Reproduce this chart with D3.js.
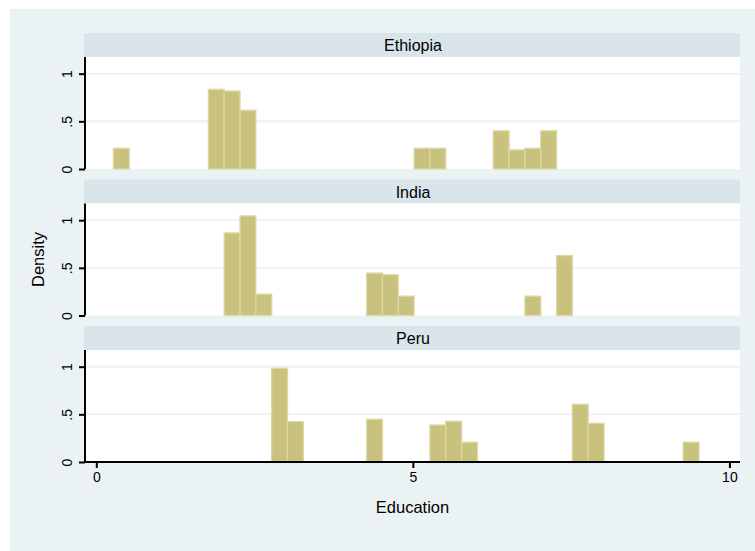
<!DOCTYPE html>
<html>
<head>
<meta charset="utf-8">
<script src="https://cdn.jsdelivr.net/npm/d3@7"></script>
<style>
  body { margin: 0; background: #ffffff; }
  svg text { font-family: "Liberation Sans", Arial, Helvetica, sans-serif; fill: #000; }
</style>
</head>
<body>
<div id="chart"></div>
<script>
// Histogram bins (left edge in years of education) and densities per country
const countries = ["Ethiopia", "India", "Peru"];
const binWidth = 0.25;

const ethiopiaLeft = [0.27, 1.77, 2.02, 2.27, 5.02, 5.27, 6.27, 6.52, 6.77, 7.02];
const ethiopiaDensity = [0.217, 0.836, 0.818, 0.616, 0.217, 0.217, 0.40, 0.20, 0.217, 0.40];

const indiaLeft = [2.02, 2.27, 2.52, 4.27, 4.52, 4.77, 6.77, 7.27];
const indiaDensity = [0.866, 1.045, 0.224, 0.445, 0.428, 0.203, 0.203, 0.628];

const peruLeft = [2.77, 3.02, 4.27, 5.27, 5.52, 5.77, 7.52, 7.77, 9.27];
const peruDensity = [0.983, 0.424, 0.448, 0.388, 0.427, 0.207, 0.605, 0.406, 0.207];

const yTicks = [0, 0.5, 1];
const yTickLabels = ["0", ".5", "1"];
const xTicks = [0, 5, 10];

const panels = [
  { name: countries[0], left: ethiopiaLeft, dens: ethiopiaDensity },
  { name: countries[1], left: indiaLeft, dens: indiaDensity },
  { name: countries[2], left: peruLeft, dens: peruDensity }
];

const W = 755, H = 551;
const plotLeft = 85, plotRight = 740;
const firstTop = 33, step = 146.5, headerH = 24, plotH = 112;

const svg = d3.select("#chart").append("svg")
  .attr("width", W).attr("height", H);

// outer background
svg.append("rect").attr("x", 10).attr("y", 9).attr("width", W - 10).attr("height", H - 9)
  .attr("fill", "#eaf2f3");

const x = d3.scaleLinear().domain([0, 10]).range([96.3, 729.4]);

panels.forEach((p, i) => {
  const top = firstTop + i * step;
  const pTop = top + headerH;
  const pBot = pTop + plotH;
  const y = d3.scaleLinear().domain([0, 1.175]).range([pBot, pTop]);

  // header strip
  svg.append("rect").attr("x", 84).attr("y", top).attr("width", plotRight - 84).attr("height", headerH)
    .attr("fill", "#d9e5eb");
  svg.append("text").attr("x", (plotLeft + plotRight) / 2 + 0.5).attr("y", top + 18)
    .attr("text-anchor", "middle").style("font-size", "16px").text(p.name);

  // plot area
  svg.append("rect").attr("x", plotLeft).attr("y", pTop).attr("width", plotRight - plotLeft).attr("height", plotH)
    .attr("fill", "#ffffff");

  // gridlines
  svg.append("g").selectAll("line").data(yTicks.filter(d => d > 0)).join("line")
    .attr("x1", plotLeft).attr("x2", plotRight)
    .attr("y1", d => y(d)).attr("y2", d => y(d))
    .attr("stroke", "#eaf2f3").attr("stroke-width", 2);

  // bars
  const bars = p.left.map((l, j) => ({ left: l, d: p.dens[j] }));
  svg.append("g").selectAll("rect").data(bars).join("rect")
    .attr("x", d => x(d.left))
    .attr("width", d => x(d.left + binWidth) - x(d.left))
    .attr("y", d => y(d.d))
    .attr("height", d => y(0) - y(d.d))
    .attr("fill", "#c9c27e")
    .attr("stroke", "#dcd7a4")
    .attr("stroke-width", 1.3);

  // y axis
  const yAxis = svg.append("g").attr("transform", `translate(${plotLeft},0)`)
    .call(d3.axisLeft(y).tickValues(yTicks).tickFormat((d, k) => yTickLabels[k]).tickSize(6).tickPadding(4));
  yAxis.select(".domain").attr("d", `M0,${pTop}V${pBot}`).attr("stroke", "#000").attr("stroke-width", 2);
  yAxis.selectAll(".tick line").attr("stroke", "#000").attr("stroke-width", 2);
  yAxis.selectAll(".tick text")
    .attr("x", null).attr("dy", null)
    .attr("transform", "translate(-13,0) rotate(-90)")
    .attr("text-anchor", "middle")
    .style("font-size", "14px");

  if (i === panels.length - 1) {
    const xAxis = svg.append("g").attr("transform", `translate(0,${pBot})`)
      .call(d3.axisBottom(x).tickValues(xTicks).tickSize(6).tickPadding(4));
    xAxis.select(".domain").attr("d", `M${plotLeft},0H${plotRight}`).attr("stroke", "#000").attr("stroke-width", 2);
    xAxis.selectAll(".tick line").attr("stroke", "#000").attr("stroke-width", 2);
    xAxis.selectAll(".tick text").style("font-size", "14px");

    svg.append("text").attr("x", (plotLeft + plotRight) / 2).attr("y", pBot + 51)
      .attr("text-anchor", "middle").style("font-size", "16.5px").text("Education");
  }
});

// shared y title
svg.append("text")
  .attr("transform", `translate(44,${firstTop + step + headerH + plotH / 2}) rotate(-90)`)
  .attr("text-anchor", "middle").style("font-size", "16.5px").text("Density");
</script>
</body>
</html>
